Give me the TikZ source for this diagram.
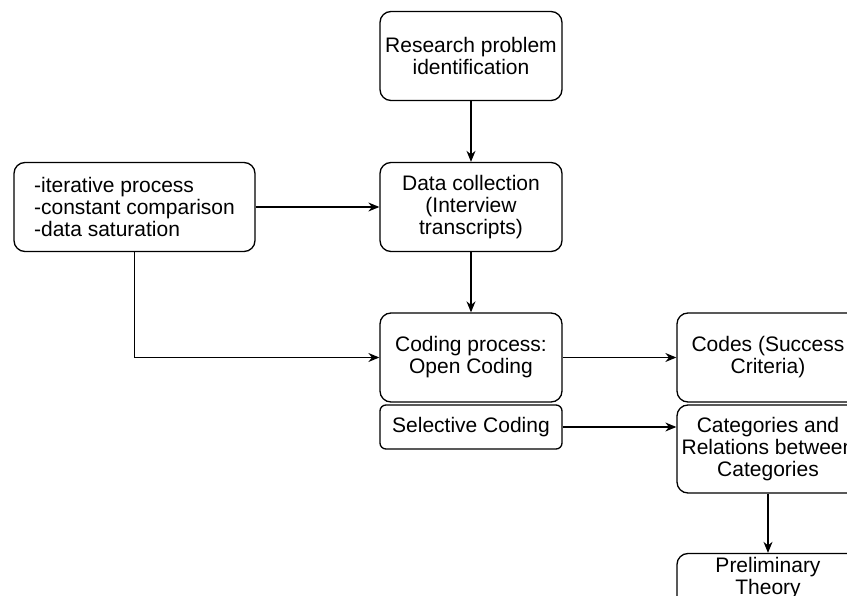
\documentclass[tikz,border=0pt]{standalone}
\usepackage{fontspec}
\setmainfont{Liberation Sans}
\usetikzlibrary{arrows.meta}

\begin{document}
\begin{tikzpicture}[x=1pt, y=-1pt,
		every node/.style={font=\fontsize{21}{22}\selectfont},
		box/.style={draw, line width=1.3pt, rounded corners=11pt, align=center, inner sep=0pt, minimum width=182pt, minimum height=89pt},
		smallbox/.style={box, rounded corners=6pt, minimum height=44pt},
		arr/.style={line width=1.3pt, -{Stealth[length=11pt, width=9pt]}}]
			\useasboundingbox (0, 0) rectangle (847, 596);
			\clip (0, 0) rectangle (847, 596);
			\fill[white] (0, 0) rectangle (847, 596);
			
			\node[box] (research) at (471, 56) {Research problem\\identification};
			\node[box] (collect) at (471, 207) {Data collection\\(Interview\\transcripts)};
			\node[box, minimum width=241pt, align=left] (notes) at (134.5, 207) {-iterative process\\-constant comparison\\-data saturation};
			\node[box] (opencode) at (471, 357.5) {Coding process:\\Open Coding};
			\node[smallbox] (selcode) at (471, 427) {Selective Coding};
			\node[box] (codes) at (768, 357.5) {Codes (Success\\Criteria)};
			\node[box, minimum height=88pt] (cats) at (768, 449) {Categories and\\Relations between\\Categories};
			\node[box] (theory) at (768, 598) {Preliminary\\Theory\\[22pt]};
			
			\draw[arr] (research) -- (collect);
			\draw[arr] (collect) -- (opencode);
			\draw[arr] (notes) -- (collect);
			\draw[arr] (notes.south) |- (opencode);
			\draw[arr] (opencode) -- (codes);
			\draw[arr] (selcode) -- (cats.west |- selcode);
			\draw[arr] (cats) -- (theory);
		\end{tikzpicture}
\end{document}
